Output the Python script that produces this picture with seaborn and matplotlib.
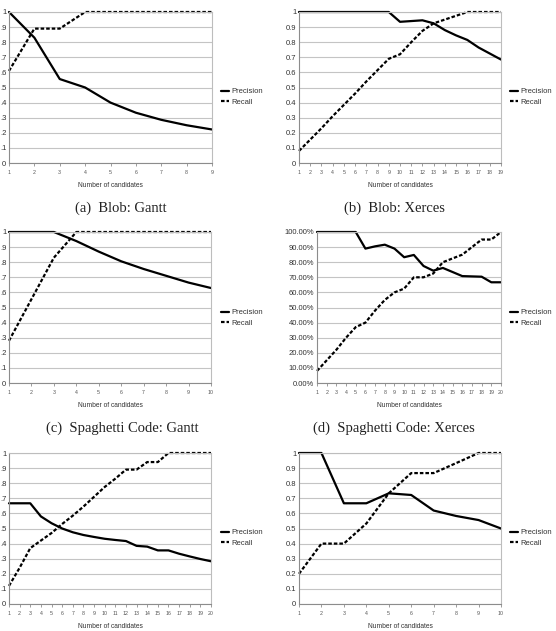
import numpy as np
import pandas as pd
import matplotlib
matplotlib.use("Agg")
import matplotlib.pyplot as plt
import seaborn as sns

sns.set_theme(style="white")
plt.rcParams['font.family'] = ['Liberation Sans', 'DejaVu Sans']

# ---------------- data ----------------
blob_gantt_x = list(range(1, 10))
blob_gantt_precision = [1.0, 0.83, 0.556, 0.5, 0.4, 0.333, 0.286, 0.25, 0.222]
blob_gantt_recall = [0.61, 0.89, 0.89, 1, 1, 1, 1, 1, 1]

blob_xerces_x = list(range(1, 20))
blob_xerces_precision = [1, 1, 1, 1, 1, 1, 1, 1, 1, 0.935, 0.94, 0.945, 0.925,
                         0.88, 0.845, 0.815, 0.765, 0.725, 0.685]
blob_xerces_recall = [0.08, 0.155, 0.23, 0.31, 0.385, 0.46, 0.54, 0.615, 0.69,
                      0.72, 0.80, 0.875, 0.925, 0.95, 0.975, 1, 1, 1, 1]

sc_gantt_x = list(range(1, 11))
sc_gantt_precision = [1, 1, 1, 0.94, 0.87, 0.806, 0.755, 0.71, 0.665, 0.629]
sc_gantt_recall = [0.28, 0.555, 0.83, 1, 1, 1, 1, 1, 1, 1]

sc_xerces_x = list(range(1, 21))
sc_xerces_precision = [1, 1, 1, 1, 1, 0.89, 0.905, 0.916, 0.89, 0.833, 0.848,
                       0.775, 0.744, 0.762, 0.735, 0.708, 0.706, 0.704, 0.667, 0.667]
sc_xerces_recall = [0.08, 0.15, 0.22, 0.30, 0.37, 0.40, 0.48, 0.55, 0.60, 0.625,
                    0.70, 0.70, 0.725, 0.80, 0.825, 0.85, 0.90, 0.95, 0.95, 1.0]

e_x = list(range(1, 21))
e_precision = [0.667, 0.667, 0.667, 0.58, 0.535, 0.50, 0.475, 0.457, 0.444, 0.432,
               0.424, 0.417, 0.385, 0.38, 0.355, 0.355, 0.333, 0.315, 0.298, 0.283]
e_recall = [0.12, 0.24, 0.37, 0.42, 0.47, 0.53, 0.585, 0.645, 0.71, 0.775,
            0.83, 0.89, 0.89, 0.94, 0.94, 1, 1, 1, 1, 1]

f_x = list(range(1, 11))
f_precision = [1, 1, 0.667, 0.667, 0.733, 0.722, 0.619, 0.583, 0.556, 0.5]
f_recall = [0.2, 0.4, 0.4, 0.533, 0.733, 0.867, 0.867, 0.933, 1, 1]

y_ticks = [0, 0.1, 0.2, 0.3, 0.4, 0.5, 0.6, 0.7, 0.8, 0.9, 1.0]
labels_short = ["0", ".1", ".2", ".3", ".4", ".5", ".6", ".7", ".8", ".9", "1"]
labels_dec = ["0", "0.1", "0.2", "0.3", "0.4", "0.5", "0.6", "0.7", "0.8", "0.9", "1"]
labels_pct = ["0.00%", "10.00%", "20.00%", "30.00%", "40.00%", "50.00%",
              "60.00%", "70.00%", "80.00%", "90.00%", "100.00%"]

captions = ["(a)  Blob: Gantt", "(b)  Blob: Xerces",
            "(c)  Spaghetti Code: Gantt", "(d)  Spaghetti Code: Xerces"]

# ---------------- layout (pixels) ----------------
W, H = 556, 631
fig = plt.figure(figsize=(W / 100, H / 100), dpi=100)

panels = [
    # x, precision, recall, yticklabels, (x0, x1, ytop, ybot), legend (px, py)
    (blob_gantt_x, blob_gantt_precision, blob_gantt_recall, labels_short, (9, 212, 12, 163), (221, 97)),
    (blob_xerces_x, blob_xerces_precision, blob_xerces_recall, labels_dec, (299, 501, 12, 163), (510, 97)),
    (sc_gantt_x, sc_gantt_precision, sc_gantt_recall, labels_short, (9, 211, 232, 383), (221, 318)),
    (sc_xerces_x, sc_xerces_precision, sc_xerces_recall, labels_pct, (317, 501, 232, 383), (510, 318)),
    (e_x, e_precision, e_recall, labels_short, (9, 211, 453, 604), (221, 538)),
    (f_x, f_precision, f_recall, labels_dec, (299, 501, 453, 604), (510, 538)),
]

grid_c = "#c4c4c4"
for xs, prec, rec, ylabs, (x0, x1, yt, yb), (lx, ly) in panels:
    ax = fig.add_axes([x0 / W, 1 - yb / H, (x1 - x0) / W, (yb - yt) / H])
    df = pd.DataFrame({"n": xs, "Precision": prec, "Recall": rec})
    sns.lineplot(data=df, x="n", y="Precision", ax=ax, color="black", lw=1.6,
                 label="Precision", clip_on=False)
    sns.lineplot(data=df, x="n", y="Recall", ax=ax, color="black", lw=1.6,
                 linestyle=(0, (1.6, 0.9)), label="Recall", clip_on=False)
    ax.set_xlim(xs[0], xs[-1])
    ax.set_ylim(0, 1)
    ax.set_xticks(xs)
    ax.set_xticklabels([str(v) for v in xs], fontsize=3.8, color="#555555")
    ax.set_yticks(y_ticks)
    ax.set_yticklabels(ylabs, fontsize=5.5, color="#333333")
    ax.yaxis.grid(True, color=grid_c, lw=0.8)
    ax.set_axisbelow(True)
    for s in ax.spines.values():
        s.set_color("#bdbdbd")
        s.set_linewidth(0.8)
    ax.spines["left"].set_color("#8c8c8c")
    ax.spines["bottom"].set_color("#8c8c8c")
    ax.tick_params(axis="x", which="major", length=2.5, width=0.6, color="#8c8c8c",
                   pad=2.5, bottom=True)
    ax.tick_params(axis="y", which="major", length=0, pad=2)
    ax.set_xlabel("Number of candidates", fontsize=4.8, color="#333333", labelpad=5)
    ax.set_ylabel("")
    leg = ax.legend(loc="center left", bbox_to_anchor=(lx / W, 1 - ly / H),
                    bbox_transform=fig.transFigure, frameon=False, fontsize=5.5,
                    handlelength=1.1, handletextpad=0.25, labelspacing=0.45,
                    borderpad=0, borderaxespad=0)
    for t in leg.get_texts():
        t.set_color("#333333")

cap_pos = [(121, 208), (394, 208), (122, 428), (394, 428)]
for cap, (cx, cy) in zip(captions, cap_pos):
    fig.text(cx / W, 1 - cy / H, cap, ha="center", va="center",
             fontsize=10.5, family=["Liberation Serif", "DejaVu Serif"], color="#222222")

fig.savefig("out.png", dpi=100)
